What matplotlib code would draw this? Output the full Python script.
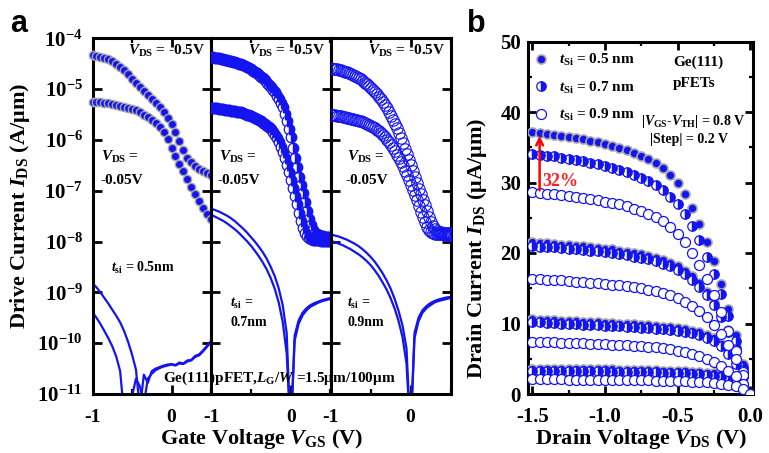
import numpy as np
import matplotlib
matplotlib.use("Agg")
import matplotlib.pyplot as plt
from matplotlib.lines import Line2D
from matplotlib.ticker import FixedLocator, NullLocator, MultipleLocator

# ---------------- data: panel a (log10 of |I| in A/um) ----------------
VGS_COARSE = np.round(np.arange(-1.0, 0.5001, 0.05), 3)
VGS_FINE = np.round(np.arange(-1.0, 0.5001, 0.025), 3)

# t_si = 0.5 nm, drain current (filled circles)
LOG_ID_05_HI = [-4.33, -4.34, -4.36, -4.38, -4.41, -4.45, -4.50, -4.56, -4.63, -4.71,
                -4.80, -4.88, -4.96, -5.04, -5.11, -5.19, -5.27, -5.36, -5.46, -5.57,
                -5.69, -5.84, -6.02, -6.20, -6.35, -6.44, -6.51, -6.57, -6.62, -6.66, -6.69]
LOG_ID_05_LO = [-5.25, -5.25, -5.26, -5.27, -5.28, -5.29, -5.31, -5.33, -5.35, -5.37,
                -5.39, -5.42, -5.46, -5.50, -5.55, -5.61, -5.67, -5.75, -5.85, -5.99,
                -6.16, -6.32, -6.47, -6.62, -6.76, -6.92, -7.07, -7.20, -7.33, -7.45, -7.55]
# t_si = 0.5 nm, gate leakage (lines)
LOG_IG_05_A = [-8.82, -8.90, -9.00, -9.11, -9.22, -9.34, -9.46, -9.59, -9.76, -9.97,
               -10.22, -10.52, -11.30, -10.62, -10.78, -10.55, -10.50, -10.47, -10.44, -10.42,
               -10.41, -10.43, -10.38, -10.40, -10.34, -10.33, -10.25, -10.22, -10.14, -10.05, -9.96]
LOG_IG_05_B = [-9.39, -9.50, -9.62, -9.76, -9.90, -10.06, -10.26, -10.55, -11.40, -11.30,
               -11.05, -10.70, -10.85, -11.20, -10.70, -10.60, -10.53, -10.49, -10.46, -10.44,
               -10.42, -10.44, -10.40, -10.41, -10.36, -10.34, -10.27, -10.24, -10.16, -10.07, -9.98]

# t_si = 0.7 nm (half-filled, dense)
LOG_ID_07_HI = [-4.37, -4.375, -4.38, -4.385, -4.39, -4.40, -4.41, -4.42, -4.43, -4.44,
                -4.45, -4.46, -4.47, -4.485, -4.50, -4.515, -4.53, -4.55, -4.57, -4.59,
                -4.61, -4.635, -4.66, -4.69, -4.72, -4.755, -4.79, -4.83, -4.87, -4.915,
                -4.96, -5.01, -5.06, -5.13, -5.20, -5.28, -5.36, -5.48, -5.62, -5.78,
                -5.95, -6.15, -6.35, -6.54, -6.72, -6.89, -7.05, -7.23, -7.40, -7.55,
                -7.68, -7.77, -7.83, -7.86, -7.88, -7.89, -7.90, -7.905, -7.91, -7.91, -7.91]
LOG_ID_07_LO = [-5.37, -5.372, -5.375, -5.38, -5.385, -5.39, -5.40, -5.41, -5.415, -5.42,
                -5.425, -5.43, -5.44, -5.445, -5.45, -5.46, -5.47, -5.48, -5.50, -5.51,
                -5.53, -5.55, -5.57, -5.59, -5.61, -5.63, -5.66, -5.69, -5.72, -5.75,
                -5.79, -5.84, -5.90, -5.97, -6.05, -6.14, -6.24, -6.36, -6.49, -6.63,
                -6.78, -6.94, -7.10, -7.27, -7.44, -7.60, -7.74, -7.84, -7.90, -7.93,
                -7.95, -7.96, -7.97, -7.97, -7.975, -7.98, -7.98, -7.98, -7.985, -7.985, -7.99]
LOG_IG_07_A = [-7.35, -7.38, -7.41, -7.45, -7.49, -7.54, -7.60, -7.67, -7.74, -7.82,
               -7.91, -8.00, -8.10, -8.21, -8.34, -8.50, -8.68, -8.92, -9.25, -9.80,
               -11.8, -9.85, -9.55, -9.40, -9.31, -9.25, -9.21, -9.18, -9.15, -9.13, -9.11]
LOG_IG_07_B = [-7.47, -7.51, -7.55, -7.59, -7.64, -7.70, -7.76, -7.83, -7.91, -7.99,
               -8.08, -8.18, -8.29, -8.41, -8.55, -8.72, -8.93, -9.20, -9.58, -10.20,
               -11.8, -9.95, -9.62, -9.45, -9.35, -9.28, -9.24, -9.20, -9.17, -9.15, -9.13]

# t_si = 0.9 nm (open circles, dense)
LOG_ID_09_HI = [-4.59, -4.595, -4.60, -4.61, -4.62, -4.63, -4.64, -4.655, -4.67, -4.685,
                -4.70, -4.72, -4.74, -4.76, -4.785, -4.81, -4.84, -4.87, -4.90, -4.935,
                -4.97, -5.01, -5.05, -5.10, -5.15, -5.20, -5.26, -5.32, -5.38, -5.45,
                -5.52, -5.60, -5.68, -5.77, -5.86, -5.96, -6.06, -6.17, -6.28, -6.39,
                -6.50, -6.61, -6.73, -6.85, -6.96, -7.07, -7.18, -7.29, -7.40, -7.51,
                -7.61, -7.69, -7.75, -7.79, -7.81, -7.82, -7.83, -7.835, -7.84, -7.84, -7.84]
LOG_ID_09_LO = [-5.51, -5.512, -5.515, -5.52, -5.525, -5.53, -5.54, -5.55, -5.56, -5.57,
                -5.58, -5.59, -5.60, -5.61, -5.62, -5.635, -5.65, -5.665, -5.68, -5.70,
                -5.72, -5.74, -5.77, -5.80, -5.83, -5.87, -5.91, -5.95, -6.00, -6.05,
                -6.10, -6.16, -6.22, -6.29, -6.36, -6.44, -6.52, -6.61, -6.70, -6.79,
                -6.88, -6.98, -7.08, -7.19, -7.30, -7.41, -7.52, -7.62, -7.71, -7.77,
                -7.81, -7.83, -7.845, -7.85, -7.855, -7.86, -7.86, -7.865, -7.865, -7.87, -7.87]
LOG_IG_09_A = [-7.86, -7.88, -7.90, -7.93, -7.96, -8.00, -8.04, -8.09, -8.15, -8.22,
               -8.30, -8.39, -8.50, -8.62, -8.76, -8.92, -9.12, -9.36, -9.65, -10.10,
               -11.8, -9.80, -9.50, -9.35, -9.27, -9.21, -9.17, -9.14, -9.12, -9.10, -9.09]
LOG_IG_09_B = [-7.98, -8.01, -8.04, -8.07, -8.11, -8.15, -8.20, -8.25, -8.31, -8.38,
               -8.46, -8.56, -8.67, -8.80, -8.94, -9.11, -9.31, -9.56, -9.88, -10.40,
               -11.8, -9.90, -9.57, -9.40, -9.31, -9.25, -9.20, -9.17, -9.15, -9.13, -9.11]

# ---------------- data: panel b (uA/um), VDS from -1.5 to 0 ----------------
VDS = np.round(np.arange(-1.5, 0.0001, 0.05), 3)

ID_B05 = [  # t_Si = 0.5 nm, |Vgs-Vth| = 0.8, 0.6, 0.4, 0.2 V
    [37.1, 37.0, 36.9, 36.8, 36.6, 36.5, 36.3, 36.1, 35.9, 35.7, 35.5, 35.2, 34.9, 34.6, 34.2,
     33.8, 33.3, 32.7, 32.0, 31.1, 29.9, 28.3, 26.4, 24.1, 21.6, 18.8, 15.6, 12.1, 8.3, 4.3, 0.0],
    [21.5, 21.4, 21.35, 21.3, 21.2, 21.1, 21.0, 20.95, 20.85, 20.75, 20.6, 20.5, 20.35, 20.2, 20.0,
     19.8, 19.6, 19.3, 19.0, 18.6, 18.1, 17.5, 16.7, 15.7, 14.5, 13.0, 11.2, 9.1, 6.6, 3.5, 0.0],
    [10.6, 10.55, 10.5, 10.45, 10.4, 10.35, 10.3, 10.25, 10.2, 10.15, 10.1, 10.05, 10.0, 9.95, 9.9,
     9.8, 9.75, 9.65, 9.55, 9.45, 9.35, 9.2, 9.0, 8.75, 8.4, 7.9, 7.1, 6.0, 4.5, 2.5, 0.0],
    [3.6, 3.59, 3.58, 3.57, 3.56, 3.55, 3.54, 3.53, 3.52, 3.51, 3.50, 3.48, 3.46, 3.44, 3.42,
     3.40, 3.38, 3.35, 3.32, 3.29, 3.25, 3.21, 3.16, 3.10, 3.02, 2.92, 2.78, 2.55, 2.15, 1.35, 0.0],
]
ID_B07 = [
    [34.0, 33.9, 33.8, 33.7, 33.5, 33.4, 33.2, 33.0, 32.8, 32.6, 32.4, 32.1, 31.8, 31.5, 31.1,
     30.7, 30.2, 29.6, 28.9, 28.0, 26.9, 25.5, 23.8, 21.8, 19.5, 17.0, 14.2, 11.0, 7.5, 3.9, 0.0],
    [21.0, 20.9, 20.85, 20.8, 20.7, 20.6, 20.5, 20.45, 20.35, 20.25, 20.1, 20.0, 19.85, 19.7, 19.5,
     19.3, 19.1, 18.8, 18.5, 18.1, 17.6, 17.0, 16.2, 15.2, 14.0, 12.6, 10.9, 8.8, 6.4, 3.4, 0.0],
    [10.2, 10.15, 10.1, 10.05, 10.0, 9.95, 9.9, 9.85, 9.8, 9.75, 9.7, 9.65, 9.6, 9.55, 9.5,
     9.4, 9.35, 9.25, 9.15, 9.05, 8.95, 8.8, 8.6, 8.35, 8.0, 7.5, 6.8, 5.7, 4.3, 2.4, 0.0],
    [3.3, 3.29, 3.28, 3.27, 3.26, 3.25, 3.24, 3.23, 3.22, 3.21, 3.20, 3.18, 3.16, 3.14, 3.12,
     3.10, 3.08, 3.05, 3.02, 2.99, 2.95, 2.91, 2.86, 2.80, 2.72, 2.62, 2.48, 2.27, 1.92, 1.22, 0.0],
]
ID_B09 = [
    [28.6, 28.5, 28.4, 28.3, 28.2, 28.1, 28.0, 27.8, 27.7, 27.5, 27.3, 27.1, 26.9, 26.6, 26.3,
     26.0, 25.6, 25.1, 24.5, 23.7, 22.7, 21.5, 20.0, 18.3, 16.3, 14.1, 11.7, 9.0, 6.1, 3.1, 0.0],
    [16.3, 16.25, 16.2, 16.15, 16.1, 16.0, 15.95, 15.9, 15.8, 15.7, 15.6, 15.5, 15.4, 15.3, 15.2,
     15.0, 14.8, 14.6, 14.3, 14.0, 13.6, 13.1, 12.5, 11.8, 10.9, 9.8, 8.5, 6.9, 5.0, 2.7, 0.0],
    [7.4, 7.37, 7.34, 7.31, 7.28, 7.25, 7.22, 7.19, 7.15, 7.11, 7.07, 7.02, 6.97, 6.91, 6.85,
     6.78, 6.70, 6.60, 6.48, 6.33, 6.15, 5.93, 5.67, 5.35, 4.97, 4.52, 3.98, 3.32, 2.52, 1.45, 0.0],
    [2.1, 2.09, 2.08, 2.07, 2.06, 2.05, 2.04, 2.03, 2.02, 2.01, 2.00, 1.99, 1.98, 1.97, 1.95,
     1.94, 1.92, 1.90, 1.88, 1.86, 1.83, 1.80, 1.76, 1.71, 1.65, 1.58, 1.48, 1.34, 1.12, 0.72, 0.0],
]

BLUE = '#1414f0'
GREY = '#a8a8a8'
W, H = 769, 453

plt.rcParams.update({
    'font.family': 'Liberation Serif',
    'font.weight': 'bold',
    'mathtext.fontset': 'custom',
    'mathtext.rm': 'Liberation Serif:bold',
    'mathtext.it': 'Liberation Serif:italic:bold',
    'mathtext.bf': 'Liberation Serif:bold',
    'axes.unicode_minus': False,
    'axes.linewidth': 2.2,
    'xtick.direction': 'in', 'ytick.direction': 'in',
    'xtick.top': True, 'ytick.right': True,
    'xtick.major.width': 2.0, 'ytick.major.width': 2.0,
    'xtick.minor.width': 1.6, 'ytick.minor.width': 1.6,
})


def fx(x):
    return x / W


def fy(y):
    return 1 - y / H


fig = plt.figure(figsize=(W / 100, H / 100), dpi=100)

# half-filled circle: white left half, blue right half.  matplotlib paints the
# "alt" half of every marker after the main half, so blue goes in the alt slot
# to keep dense runs of markers looking blue like the original
HALF = dict(marker='o', fillstyle='left', mfc='white', mfcalt=BLUE, mec=BLUE)

# ---------------- panel a ----------------
edges = [92.5, 211, 330.5, 450.5]
top_a, bot = 38.3, 394
panel_sets = [
    (VGS_COARSE, LOG_ID_05_HI, LOG_ID_05_LO, LOG_IG_05_A, LOG_IG_05_B, 'filled'),
    (VGS_FINE, LOG_ID_07_HI, LOG_ID_07_LO, LOG_IG_07_A, LOG_IG_07_B, 'half'),
    (VGS_FINE, LOG_ID_09_HI, LOG_ID_09_LO, LOG_IG_09_A, LOG_IG_09_B, 'open'),
]
axes_a = []
for i, (vx, hi, lo, ga, gb, style) in enumerate(panel_sets):
    ax = fig.add_axes([fx(edges[i]), fy(bot), (edges[i + 1] - edges[i]) / W, (bot - top_a) / H])
    axes_a.append(ax)
    if style == 'filled':
        kw = dict(marker='o', ms=6.0, mfc=BLUE, mec=GREY, mew=1.0, clip_on=False)
    elif style == 'half':
        kw = dict(ms=7.6, mew=0.9, **HALF)
    else:
        kw = dict(marker='o', ms=8.2, mfc='none', mec=BLUE, mew=0.8)
    for curve in (hi, lo):
        ax.plot(vx, 10.0 ** np.array(curve), ls='none', zorder=3, **kw)
    for g in (ga, gb):
        ax.plot(VGS_COARSE, 10.0 ** np.array(g), color=BLUE, lw=1.6, zorder=2)
    ax.set_yscale('log')
    ax.set_ylim(1e-11, 1e-4)
    ax.set_xlim(-1, 0.5)
    ax.yaxis.set_major_locator(FixedLocator([10.0 ** k for k in range(-11, -3)]))
    ax.yaxis.set_minor_locator(NullLocator())
    ax.xaxis.set_major_locator(FixedLocator([-1, 0]))
    ax.xaxis.set_minor_locator(FixedLocator([-0.5, 0.5]))
    ax.set_xticklabels(['-1', '0'])
    ax.tick_params(which='major', length=6.5, labelsize=14, pad=11)
    ax.tick_params(which='minor', length=3.5)
    ax.tick_params(axis='y', pad=7, labelsize=15)
    if i > 0:
        ax.tick_params(axis='y', labelleft=False)

txt = dict(fontsize=11, fontweight='bold', va='center', ha='left')
for x0 in (128, 248, 368):
    fig.text(fx(x0), fy(51), r'$V_{\mathrm{DS}}$ = -0.5V', **txt)
for x0 in (101, 219, 347):
    fig.text(fx(x0), fy(157), r'$V_{\mathrm{DS}}$ =', **txt)
    fig.text(fx(x0 - 1), fy(180), '-0.05V', **txt)
small = dict(fontsize=10, fontweight='bold', va='center', ha='left')
fig.text(fx(111), fy(268), r'$t_{\mathrm{si}}$ = 0.5nm', **small)
for x0, lab in ((230, '0.7nm'), (347, '0.9nm')):
    fig.text(fx(x0), fy(303), r'$t_{\mathrm{si}}$ =', **small)
    fig.text(fx(x0), fy(323), lab, **small)
fig.text(fx(163), fy(378), r'Ge(111)pFET,$L_{\mathrm{G}}$/$W$ =1.5$\mathrm{\mu}$m/100$\mathrm{\mu}$m',
         fontsize=11, fontweight='bold', va='center', ha='left')

fig.text(fx(20), fy(206), r'Drive Current $I_{\mathrm{DS}}$ (A/$\mathrm{\mu}$m)',
         fontsize=16, fontweight='bold', rotation=90, ha='center', va='center')
fig.text(fx(262), fy(444), r'Gate Voltage $V_{\mathrm{GS}}$ (V)',
         fontsize=16, fontweight='bold', ha='center', va='baseline')

# ---------------- panel b ----------------
axb = fig.add_axes([fx(528), fy(bot), (753 - 528) / W, (bot - 41.5) / H])
filled = dict(marker='o', ms=6.5, mfc=BLUE, mec=GREY, mew=1.2, ls='none')
half = dict(ms=6.8, mew=0.9, ls='none', **HALF)
opn = dict(marker='o', ms=7.2, mfc='white', mec=BLUE, mew=0.9, ls='none')
for k in range(4):
    axb.plot(VDS, ID_B05[k], zorder=3, **filled)
    axb.plot(VDS, ID_B07[k], zorder=4, **half)
    axb.plot(VDS, ID_B09[k], zorder=5, **opn)
axb.set_xlim(-1.53, 0.02)
axb.set_ylim(0, 50)
axb.xaxis.set_major_locator(FixedLocator([-1.5, -1.0, -0.5, 0.0]))
axb.xaxis.set_minor_locator(MultipleLocator(0.25))
axb.yaxis.set_major_locator(MultipleLocator(10))
axb.yaxis.set_minor_locator(MultipleLocator(5))
axb.set_xticklabels(['-1.5', '-1.0', '-0.5', '0.0'])
axb.tick_params(which='major', length=5.5, labelsize=15)
axb.tick_params(which='minor', length=3)
axb.tick_params(axis='x', pad=9)
axb.tick_params(axis='y', pad=5)

handles = [Line2D([], [], **filled), Line2D([], [], **half), Line2D([], [], **opn)]
labels = [r'$t_{\mathrm{Si}}$ = 0.5 nm', r'$t_{\mathrm{Si}}$ = 0.7 nm', r'$t_{\mathrm{Si}}$ = 0.9 nm']
axb.legend(handles, labels, loc='upper left', bbox_to_anchor=(-0.03, 1.0), frameon=False,
           fontsize=11, handletextpad=0.6, labelspacing=0.75, borderaxespad=0.3,
           handlelength=1.2)

fig.text(fx(673), fy(62), 'Ge(111)', fontsize=11, fontweight='bold', va='center', ha='left')
fig.text(fx(673), fy(84), 'pFETs', fontsize=11, fontweight='bold', va='center', ha='left')
fig.text(fx(693), fy(121), r'|$V_{\mathrm{GS}}$-$V_{\mathrm{TH}}$| = 0.8 V', fontsize=10,
         fontweight='bold', va='center', ha='center')
fig.text(fx(689), fy(140), '|Step| = 0.2 V', fontsize=10, fontweight='bold',
         va='center', ha='center')

axb.annotate('', xy=(VDS[1], ID_B05[0][1]), xytext=(VDS[1], ID_B09[0][1]),
             arrowprops=dict(arrowstyle='->', color='red', lw=1.8, mutation_scale=12),
             zorder=6)
fig.text(fx(542), fy(181), '32%', color='#ff2020', fontsize=13, fontweight='bold',
         va='center', ha='left')

fig.text(fx(477), fy(248), r'Drain Current $I_{\mathrm{DS}}$ ($\mathrm{\mu}$A/$\mathrm{\mu}$m)',
         fontsize=16, fontweight='bold', rotation=90, ha='center', va='center')
fig.text(fx(641), fy(444), r'Drain Voltage $V_{\mathrm{DS}}$ (V)',
         fontsize=16, fontweight='bold', ha='center', va='baseline')

fig.text(fx(10), fy(32), 'a', fontsize=22, fontweight='bold', family='Liberation Sans',
         va='baseline', ha='left')
fig.text(fx(467), fy(32), 'b', fontsize=22, fontweight='bold', family='Liberation Sans',
         va='baseline', ha='left')

fig.savefig('out.png', dpi=100)
